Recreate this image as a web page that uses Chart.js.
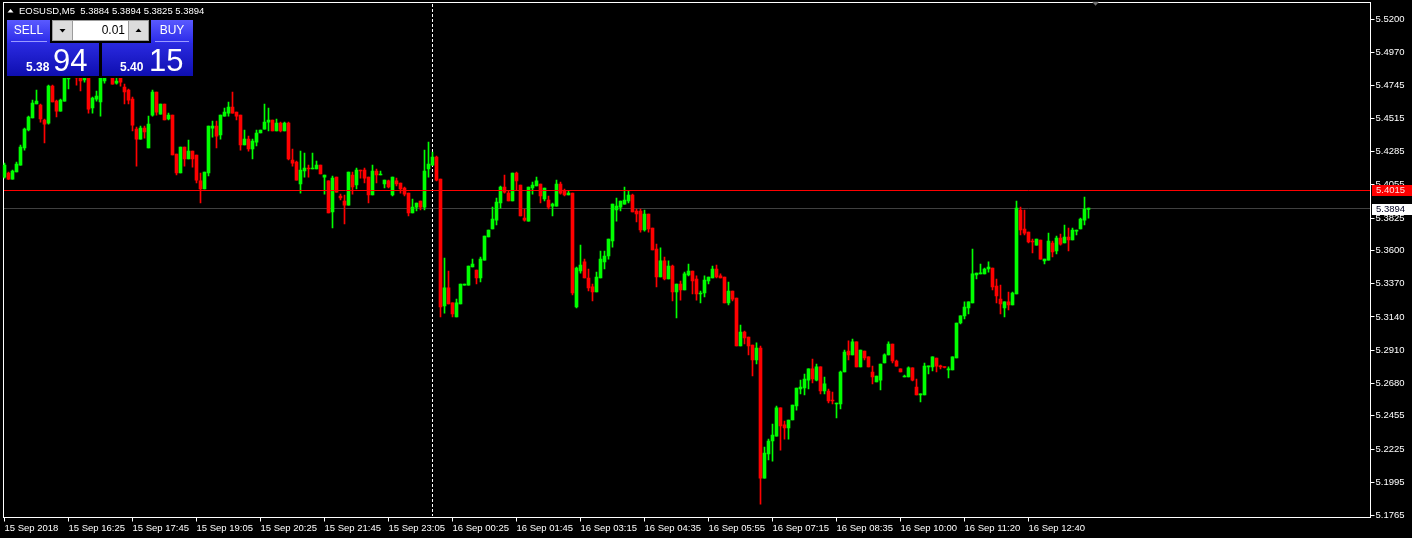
<!DOCTYPE html>
<html><head><meta charset="utf-8">
<script src="https://cdn.jsdelivr.net/npm/chart.js@4.4.1/dist/chart.umd.min.js"></script>
<style>html,body{margin:0;padding:0;background:#000;overflow:hidden}canvas{display:block}</style>
</head><body>
<canvas id="c" width="1412" height="538"></canvas>
<script>
// ---------- DATA (EOSUSD, M5) ----------
const symbol = 'EOSUSD,M5';
const timeLabels = ['15 Sep 2018','15 Sep 16:25','15 Sep 17:45','15 Sep 19:05','15 Sep 20:25','15 Sep 21:45','15 Sep 23:05','16 Sep 00:25','16 Sep 01:45','16 Sep 03:15','16 Sep 04:35','16 Sep 05:55','16 Sep 07:15','16 Sep 08:35','16 Sep 10:00','16 Sep 11:20','16 Sep 12:40'];
const labelStep = 16;        // one time label every 16 bars
const totalSlots = 342;      // bar slots visible across the chart (incl. right shift)
const daySeparatorBar = 107; // 16 Sep 00:00
const yTicks = [5.5200,5.4970,5.4745,5.4515,5.4285,5.4055,5.3825,5.3600,5.3370,5.3140,5.2910,5.2680,5.2455,5.2225,5.1995,5.1765];
const yMin = 5.1751, yMax = 5.5318;
const askPrice = 5.4015, bidPrice = 5.3894;
const sellPrice = ['5.38','94'], buyPrice = ['5.40','15'], lotSize = '0.01';

const open = [
5.4109,5.4137,5.4095,5.4144,5.4192,5.4310,5.4435,5.4518,5.4615,5.4608,
5.4504,5.4483,5.4739,5.4635,5.4566,5.4635,5.4788,5.4822,5.4878,5.4809,
5.4781,5.4850,5.4587,5.4649,5.4629,5.4774,5.4816,5.4850,5.4760,5.4809,
5.4732,5.4712,5.4649,5.4441,5.4372,5.4448,5.4310,5.4538,5.4698,5.4545,
5.4615,5.4511,5.4538,5.4268,5.4137,5.4317,5.4234,5.4289,5.4262,5.4082,
5.4026,5.4137,5.4448,5.4462,5.4400,5.4531,5.4552,5.4594,5.4559,5.4538,
5.4331,5.4372,5.4303,5.4351,5.4414,5.4441,5.4490,5.4504,5.4428,5.4483,
5.4428,5.4483,5.4227,5.4213,5.4061,5.4151,5.4172,5.4165,5.4165,5.4192,
5.4109,5.4082,5.3867,5.4109,5.3978,5.3943,5.3915,5.4123,5.4054,5.4158,
5.4158,5.4109,5.3985,5.4151,5.4123,5.4061,5.4082,5.3985,5.4082,5.4068,
5.4033,5.3998,5.3860,5.3901,5.3943,5.3901,5.4165,5.4192,5.4248,5.4095,
5.3216,5.3341,5.3237,5.3140,5.3230,5.3361,5.3361,5.3486,5.3465,5.3410,
5.3534,5.3694,5.3749,5.3811,5.3929,5.4040,5.3998,5.3943,5.4137,5.4054,
5.3825,5.3804,5.4033,5.4047,5.4061,5.3957,5.3950,5.3908,5.3908,5.4061,
5.4012,5.3985,5.3998,5.3209,5.3458,5.3521,5.3410,5.3348,5.3313,5.3410,
5.3521,5.3562,5.3666,5.3881,5.3901,5.3922,5.3943,5.3985,5.3874,5.3874,
5.3742,5.3853,5.3756,5.3611,5.3417,5.3528,5.3403,5.3493,5.3313,5.3368,
5.3327,5.3431,5.3458,5.3403,5.3299,5.3306,5.3389,5.3410,5.3472,5.3424,
5.3417,5.3237,5.3320,5.3271,5.2939,5.3036,5.3001,5.2946,5.2842,5.2925,
5.2024,5.2191,5.2281,5.2315,5.2510,5.2392,5.2371,5.2426,5.2523,5.2641,
5.2648,5.2703,5.2780,5.2703,5.2794,5.2627,5.2627,5.2565,5.2537,5.2537,
5.2759,5.2904,5.2877,5.2967,5.2794,5.2904,5.2863,5.2759,5.2690,5.2703,
5.2821,5.2877,5.2953,5.2835,5.2780,5.2724,5.2724,5.2787,5.2655,5.2600,
5.2600,5.2794,5.2794,5.2856,5.2800,5.2794,5.2773,5.2773,5.2856,5.3098,
5.3147,5.3202,5.3237,5.3431,5.3438,5.3438,5.3472,5.3479,5.3354,5.3264,
5.3202,5.3244,5.3223,5.3299,5.3881,5.3749,5.3728,5.3666,5.3638,5.3673,
5.3528,5.3534,5.3652,5.3597,5.3687,5.3652,5.3694,5.3673,5.3735,5.3749,
5.3811,5.3884];
const high = [
5.4206,5.4144,5.4158,5.4213,5.4331,5.4448,5.4531,5.4642,5.4712,5.4615,
5.4511,5.4746,5.4746,5.4642,5.4649,5.4864,5.4850,5.4906,5.4892,5.4864,
5.4885,5.4864,5.4663,5.4705,5.4843,5.4829,5.4871,5.4857,5.4795,5.4822,
5.4753,5.4719,5.4663,5.4455,5.4462,5.4462,5.4531,5.4712,5.4698,5.4615,
5.4615,5.4552,5.4538,5.4268,5.4317,5.4317,5.4365,5.4289,5.4262,5.4137,
5.4144,5.4462,5.4497,5.4497,5.4538,5.4587,5.4629,5.4698,5.4559,5.4538,
5.4435,5.4393,5.4372,5.4435,5.4435,5.4615,5.4587,5.4504,5.4511,5.4490,
5.4490,5.4490,5.4303,5.4220,5.4289,5.4275,5.4192,5.4275,5.4220,5.4192,
5.4123,5.4082,5.4116,5.4109,5.3991,5.3985,5.4144,5.4144,5.4172,5.4158,
5.4172,5.4109,5.4192,5.4165,5.4151,5.4088,5.4088,5.4109,5.4102,5.4068,
5.4040,5.3998,5.3957,5.3929,5.3943,5.4296,5.4351,5.4282,5.4255,5.4095,
5.3548,5.3458,5.3237,5.3264,5.3368,5.3368,5.3493,5.3541,5.3465,5.3555,
5.3701,5.3742,5.3901,5.3964,5.4047,5.4123,5.4012,5.4137,5.4144,5.4054,
5.3888,5.4040,5.4075,5.4109,5.4061,5.4033,5.3978,5.3929,5.4088,5.4075,
5.4026,5.4012,5.3998,5.3486,5.3638,5.3541,5.3472,5.3368,5.3451,5.3597,
5.3597,5.3680,5.3922,5.3964,5.3943,5.4040,5.4012,5.3991,5.3888,5.3888,
5.3881,5.3853,5.3756,5.3645,5.3618,5.3555,5.3528,5.3500,5.3368,5.3389,
5.3451,5.3507,5.3458,5.3424,5.3320,5.3424,5.3417,5.3493,5.3500,5.3438,
5.3417,5.3382,5.3320,5.3271,5.3084,5.3043,5.3001,5.2946,5.2960,5.2939,
5.2239,5.2294,5.2398,5.2523,5.2510,5.2419,5.2426,5.2530,5.2648,5.2703,
5.2745,5.2780,5.2849,5.2814,5.2794,5.2724,5.2641,5.2620,5.2544,5.2766,
5.2911,5.2974,5.2987,5.2967,5.2911,5.2904,5.2863,5.2800,5.2731,5.2814,
5.2884,5.2967,5.2953,5.2842,5.2780,5.2738,5.2794,5.2787,5.2710,5.2607,
5.2821,5.2800,5.2863,5.2856,5.2807,5.2794,5.2794,5.2863,5.3098,5.3147,
5.3244,5.3244,5.3611,5.3444,5.3507,5.3479,5.3521,5.3479,5.3403,5.3361,
5.3244,5.3313,5.3313,5.3943,5.3901,5.3881,5.3728,5.3680,5.3680,5.3673,
5.3541,5.3721,5.3666,5.3701,5.3714,5.3777,5.3756,5.3756,5.3742,5.3825,
5.3971,5.3894];
const low = [
5.4102,5.4092,5.4095,5.4144,5.4192,5.4296,5.4428,5.4518,5.4615,5.4490,
5.4345,5.4476,5.4629,5.4525,5.4566,5.4635,5.4719,5.4809,5.4746,5.4705,
5.4767,5.4552,5.4552,5.4635,5.4531,5.4760,5.4802,5.4753,5.4753,5.4739,
5.4615,5.4615,5.4428,5.4185,5.4372,5.4379,5.4310,5.4531,5.4538,5.4545,
5.4504,5.4504,5.4262,5.4123,5.4137,5.4185,5.4234,5.4178,5.4068,5.3929,
5.4026,5.4116,5.4386,5.4310,5.4372,5.4531,5.4531,5.4552,5.4504,5.4296,
5.4331,5.4289,5.4234,5.4324,5.4414,5.4441,5.4428,5.4428,5.4428,5.4421,
5.4428,5.4227,5.4185,5.4088,5.3998,5.4109,5.4109,5.4165,5.4165,5.4130,
5.3991,5.3860,5.3756,5.4005,5.3950,5.3784,5.3915,5.3991,5.4026,5.4102,
5.4068,5.3929,5.3985,5.4068,5.4123,5.4033,5.4033,5.3978,5.4047,5.3998,
5.3978,5.3839,5.3860,5.3874,5.3881,5.3881,5.4109,5.4192,5.4082,5.3140,
5.3167,5.3230,5.3140,5.3140,5.3230,5.3361,5.3361,5.3486,5.3368,5.3382,
5.3534,5.3694,5.3749,5.3777,5.3894,5.3998,5.3943,5.3943,5.4019,5.3839,
5.3804,5.3804,5.3991,5.4047,5.3929,5.3943,5.3888,5.3839,5.3908,5.3991,
5.3978,5.3985,5.3292,5.3202,5.3444,5.3410,5.3320,5.3251,5.3313,5.3410,
5.3472,5.3541,5.3624,5.3804,5.3874,5.3922,5.3929,5.3867,5.3798,5.3728,
5.3735,5.3728,5.3604,5.3348,5.3417,5.3396,5.3403,5.3251,5.3133,5.3257,
5.3327,5.3424,5.3299,5.3257,5.3237,5.3278,5.3368,5.3410,5.3410,5.3410,
5.3237,5.3223,5.3251,5.2939,5.2939,5.2953,5.2877,5.2731,5.2814,5.1844,
5.2024,5.2149,5.2142,5.2315,5.2218,5.2294,5.2294,5.2426,5.2495,5.2607,
5.2600,5.2641,5.2683,5.2697,5.2607,5.2607,5.2544,5.2537,5.2440,5.2503,
5.2759,5.2842,5.2877,5.2794,5.2794,5.2842,5.2794,5.2676,5.2690,5.2634,
5.2821,5.2877,5.2821,5.2800,5.2759,5.2724,5.2724,5.2697,5.2600,5.2551,
5.2600,5.2745,5.2766,5.2759,5.2780,5.2787,5.2717,5.2773,5.2856,5.3091,
5.3126,5.3161,5.3237,5.3403,5.3438,5.3438,5.3451,5.3327,5.3237,5.3161,
5.3140,5.3188,5.3223,5.3299,5.3708,5.3708,5.3652,5.3583,5.3638,5.3541,
5.3507,5.3534,5.3555,5.3576,5.3638,5.3652,5.3597,5.3673,5.3708,5.3749,
5.3777,5.3825];
const close = [
5.4192,5.4095,5.4151,5.4199,5.4317,5.4441,5.4525,5.4622,5.4635,5.4511,
5.4476,5.4739,5.4629,5.4566,5.4642,5.4850,5.4822,5.4878,5.4795,5.4774,
5.4864,5.4580,5.4656,5.4670,5.4836,5.4816,5.4850,5.4753,5.4774,5.4767,
5.4698,5.4642,5.4469,5.4372,5.4448,5.4421,5.4476,5.4698,5.4559,5.4615,
5.4504,5.4538,5.4262,5.4137,5.4317,5.4234,5.4289,5.4234,5.4088,5.4026,
5.4144,5.4462,5.4462,5.4393,5.4538,5.4559,5.4594,5.4552,5.4531,5.4331,
5.4372,5.4303,5.4358,5.4414,5.4435,5.4490,5.4504,5.4428,5.4483,5.4428,
5.4483,5.4234,5.4206,5.4088,5.4158,5.4172,5.4165,5.4172,5.4192,5.4130,
5.4123,5.3860,5.4102,5.4005,5.3964,5.3915,5.4144,5.4040,5.4158,5.4151,
5.4102,5.3985,5.4151,5.4123,5.4130,5.4088,5.4040,5.4109,5.4061,5.4026,
5.3991,5.3860,5.3901,5.3929,5.3901,5.4151,5.4199,5.4248,5.4088,5.3209,
5.3341,5.3230,5.3161,5.3237,5.3368,5.3368,5.3493,5.3507,5.3410,5.3541,
5.3701,5.3742,5.3818,5.3936,5.4040,5.4005,5.3943,5.4137,5.4082,5.3839,
5.3811,5.4040,5.4054,5.4082,5.3978,5.4033,5.3901,5.3922,5.4061,5.3998,
5.3985,5.3998,5.3306,5.3479,5.3500,5.3410,5.3341,5.3313,5.3417,5.3541,
5.3562,5.3680,5.3922,5.3908,5.3943,5.3950,5.3985,5.3867,5.3853,5.3742,
5.3853,5.3749,5.3604,5.3417,5.3528,5.3403,5.3493,5.3313,5.3368,5.3327,
5.3438,5.3458,5.3389,5.3299,5.3306,5.3396,5.3417,5.3472,5.3417,5.3410,
5.3237,5.3320,5.3264,5.2939,5.3036,5.2994,5.2939,5.2842,5.2925,5.2024,
5.2198,5.2281,5.2322,5.2510,5.2385,5.2371,5.2426,5.2530,5.2648,5.2655,
5.2710,5.2780,5.2710,5.2794,5.2627,5.2676,5.2558,5.2558,5.2544,5.2759,
5.2897,5.2877,5.2967,5.2794,5.2911,5.2856,5.2794,5.2724,5.2731,5.2814,
5.2877,5.2953,5.2835,5.2800,5.2759,5.2731,5.2787,5.2703,5.2600,5.2607,
5.2800,5.2800,5.2863,5.2800,5.2794,5.2790,5.2780,5.2863,5.3098,5.3147,
5.3209,5.3244,5.3438,5.3444,5.3444,5.3472,5.3486,5.3348,5.3285,5.3230,
5.3244,5.3223,5.3306,5.3894,5.3742,5.3721,5.3659,5.3659,5.3680,5.3541,
5.3541,5.3666,5.3590,5.3687,5.3645,5.3694,5.3673,5.3742,5.3742,5.3818,
5.3888,5.3894];

// ---------- STYLE ----------
const FONT = "'Liberation Sans', Arial, sans-serif";
const BULL = '#00ff00', BEAR = '#ff0000';
const slots = Array.from({length: totalSlots}, (_, i) => i);
const candleColor = close.map((c, i) => c >= open[i] ? BULL : BEAR);
const fmt = v => v.toFixed(4);

function grad(ctx, x, y, w, h, c1, c2) {
  const g = ctx.createLinearGradient(0, y, 0, y + h);
  g.addColorStop(0, c1); g.addColorStop(1, c2);
  ctx.fillStyle = g; ctx.fillRect(x, y, w, h);
}
function tri(ctx, cx, cy, s, up, col) {
  ctx.fillStyle = col; ctx.beginPath();
  if (up) { ctx.moveTo(cx - s, cy + s / 2); ctx.lineTo(cx + s, cy + s / 2); ctx.lineTo(cx, cy - s / 2 - 0.5); }
  else { ctx.moveTo(cx - s, cy - s / 2); ctx.lineTo(cx + s, cy - s / 2); ctx.lineTo(cx, cy + s / 2 + 0.5); }
  ctx.closePath(); ctx.fill();
}

const mt4 = {
  id: 'mt4',
  beforeDraw(chart) {
    const ctx = chart.ctx; ctx.save(); ctx.fillStyle = '#000'; ctx.fillRect(0, 0, chart.width, chart.height); ctx.restore();
  },
  beforeDatasetsDraw(chart) {
    const {ctx, scales: {x, y}} = chart;
    ctx.save();
    // frame
    ctx.strokeStyle = '#ffffff'; ctx.lineWidth = 1;
    ctx.strokeRect(3.5, 2.5, 1367, 515);
    // day separator
    const xs = Math.floor(x.getPixelForValue(daySeparatorBar)) + 0.5;
    ctx.setLineDash([3, 2]); ctx.beginPath(); ctx.moveTo(xs, 4); ctx.lineTo(xs, 516); ctx.stroke(); ctx.setLineDash([]);
    // bid line (gray)
    const yb = Math.floor(y.getPixelForValue(bidPrice)) + 0.5;
    ctx.strokeStyle = '#404040'; ctx.beginPath(); ctx.moveTo(4, yb); ctx.lineTo(1370, yb); ctx.stroke();
    ctx.restore();
  },
  afterDatasetsDraw(chart) {
    const {ctx, scales: {y}} = chart;
    ctx.save();
    const ya = Math.floor(y.getPixelForValue(askPrice)) + 0.5;
    ctx.strokeStyle = '#ff0000'; ctx.lineWidth = 1; ctx.beginPath(); ctx.moveTo(4, ya); ctx.lineTo(1370, ya); ctx.stroke();
    ctx.restore();
  },
  afterDraw(chart) {
    const {ctx, scales: {y}} = chart;
    ctx.save();
    // price labels on the axis
    ctx.font = '9.5px ' + FONT; ctx.textBaseline = 'middle'; ctx.textAlign = 'left';
    const ya = Math.floor(y.getPixelForValue(askPrice));
    ctx.fillStyle = '#ff0000'; ctx.fillRect(1372, ya - 5, 40, 11);
    ctx.fillStyle = '#ffe0e0'; ctx.fillText(fmt(askPrice), 1376, ya + 0.5);
    const yb = Math.floor(y.getPixelForValue(bidPrice));
    ctx.fillStyle = '#ffffff'; ctx.fillRect(1372, yb - 4, 40, 11);
    ctx.fillStyle = '#000020'; ctx.fillText(fmt(bidPrice), 1376, yb + 1.5);
    // shift marker
    tri(ctx, 1095.5, 3.5, 3.5, false, '#707070');

    // header
    tri(ctx, 10.5, 11, 3, true, '#ffffff');
    const n = close.length - 1;
    ctx.fillStyle = '#ffffff'; ctx.font = '9.5px ' + FONT; ctx.textBaseline = 'middle';
    ctx.fillText(symbol + '  ' + [open[n], high[n], low[n], close[n]].map(fmt).join(' '), 19, 11);

    // one-click trading panel
    ctx.fillStyle = '#000'; ctx.fillRect(5, 17, 192, 61);
    grad(ctx, 7, 20, 43, 23, '#5a5aff', '#2a2ae8');
    grad(ctx, 151, 20, 42, 23, '#5a5aff', '#2a2ae8');
    ctx.fillStyle = '#9a9aff'; ctx.fillRect(11, 41, 36, 1); ctx.fillRect(155, 41, 34, 1);
    grad(ctx, 7, 43, 92, 33, '#2a2ae0', '#0e0eb0');
    grad(ctx, 102, 43, 91, 33, '#2a2ae0', '#0e0eb0');
    ctx.fillStyle = '#9c9c9c'; ctx.fillRect(52, 20, 97, 21);
    ctx.fillStyle = '#dcdcdc'; ctx.fillRect(53, 21, 19, 19); ctx.fillRect(129, 21, 19, 19);
    ctx.fillStyle = '#ffffff'; ctx.fillRect(73, 21, 55, 19);
    tri(ctx, 62.5, 30.5, 3, false, '#000');
    tri(ctx, 138.5, 30.5, 3, true, '#000');
    ctx.font = '12px ' + FONT; ctx.textBaseline = 'middle';
    ctx.fillStyle = '#000'; ctx.textAlign = 'right'; ctx.fillText(lotSize, 125, 31);
    ctx.fillStyle = '#fff'; ctx.textAlign = 'center';
    ctx.fillText('SELL', 28.5, 31); ctx.fillText('BUY', 172, 31);
    ctx.textBaseline = 'alphabetic'; ctx.textAlign = 'left';
    ctx.font = 'bold 12px ' + FONT;
    ctx.fillText(sellPrice[0], 26, 71); ctx.fillText(buyPrice[0], 120, 71);
    ctx.font = '31px ' + FONT;
    ctx.fillText(sellPrice[1], 53, 71); ctx.fillText(buyPrice[1], 149, 71);
    ctx.restore();
  }
};

new Chart(document.getElementById('c'), {
  type: 'bar',
  data: {
    labels: slots,
    datasets: [
      {label: 'body', data: open.map((o, i) => [o, close[i]]), backgroundColor: candleColor,
       barThickness: 3, minBarLength: 1, grouped: false, order: 0, borderWidth: 0},
      {label: 'wick', data: low.map((l, i) => [l, high[i]]), backgroundColor: candleColor,
       barThickness: 1, grouped: false, order: 1, borderWidth: 0}
    ]
  },
  options: {
    responsive: false, animation: false, devicePixelRatio: 1,
    layout: {padding: {left: 2.5, top: 2.5, right: 0, bottom: 0}},
    plugins: {legend: {display: false}, tooltip: {enabled: false}},
    scales: {
      x: {
        type: 'category', offset: true,
        grid: {display: true, drawOnChartArea: false, offset: false, tickLength: 4, color: '#ffffff', lineWidth: 1},
        border: {display: false},
        ticks: {autoSkip: false, maxRotation: 0, minRotation: 0, align: 'start', padding: 1,
                color: '#ffffff', font: {family: FONT, size: 9.5},
                callback: v => timeLabels[v / labelStep]},
        afterBuildTicks: s => { s.ticks = s.ticks.filter(t => t.value % labelStep === 0 && t.value / labelStep < timeLabels.length); },
        afterFit: s => { s.height = 20.5; s.paddingLeft = 0; s.paddingRight = 0; }
      },
      y: {
        position: 'right', min: yMin, max: yMax,
        grid: {display: true, drawOnChartArea: false, tickLength: 4, color: '#ffffff'},
        border: {display: false},
        ticks: {color: '#ffffff', font: {family: FONT, size: 9.5}, padding: 1, callback: v => fmt(v)},
        afterBuildTicks: s => { s.ticks = yTicks.map(v => ({value: v})); },
        afterFit: s => { s.width = 41.5; s.paddingTop = 0; s.paddingBottom = 0; }
      }
    }
  },
  plugins: [mt4]
});
</script>
</body></html>
